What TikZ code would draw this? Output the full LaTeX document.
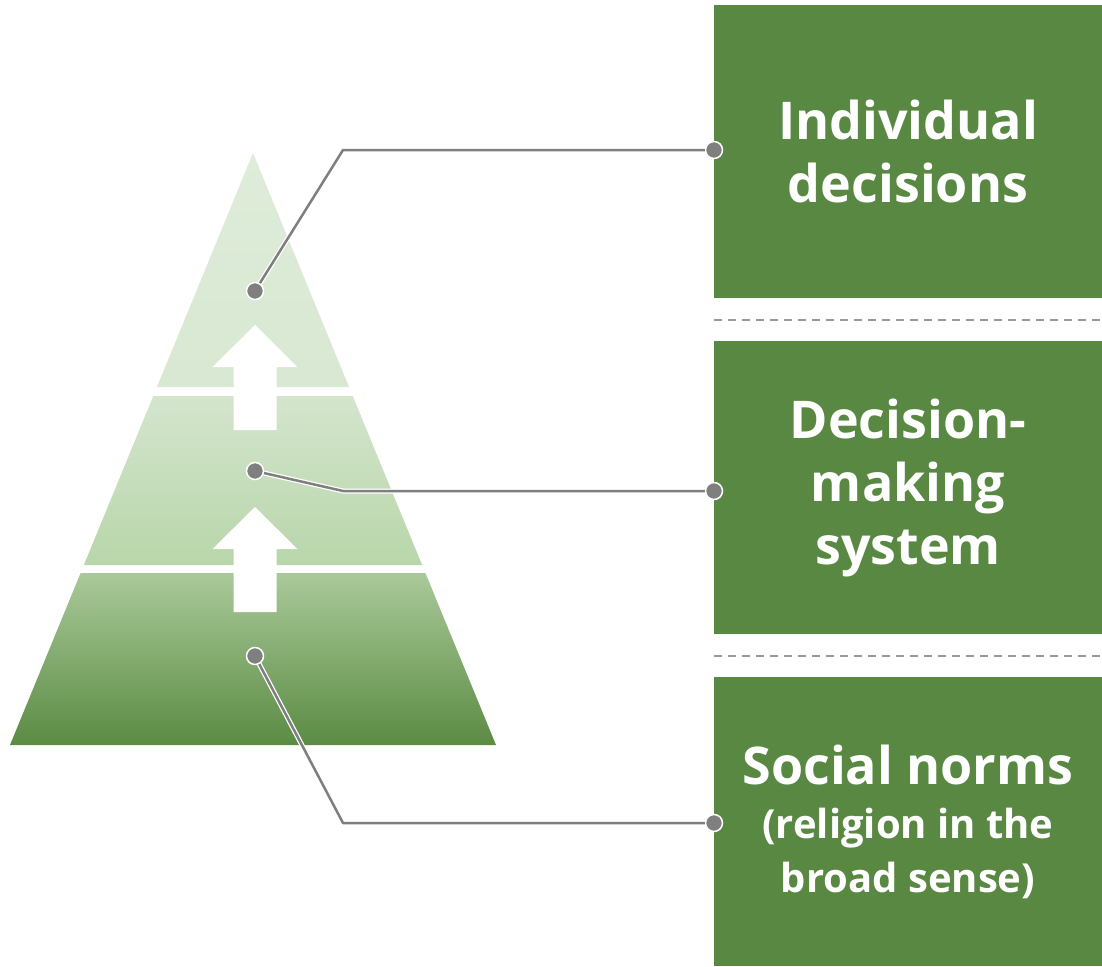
\documentclass[tikz,border=0pt]{standalone}
\usepackage{fontspec}
\setmainfont{Open Sans}
\usetikzlibrary{calc}
\definecolor{boxgreen}{HTML}{598842}
\definecolor{lineGray}{HTML}{7F7F7F}
\definecolor{dashGray}{HTML}{9A9A9A}
\definecolor{topA}{HTML}{DEECD9}
\definecolor{topB}{HTML}{D8E8D2}
\definecolor{midA}{HTML}{D4E5CD}
\definecolor{midB}{HTML}{B8D6AA}
\definecolor{botA}{HTML}{AAC99A}
\definecolor{botB}{HTML}{5B8B43}
\tikzset{
  layerbox/.style={fill=boxgreen, minimum width=388pt, minimum height=293pt,
    inner sep=0pt, text=white, align=flush center, text width=380pt,
    font=\fontsize{52}{63}\selectfont\bfseries},
  leader/.style={draw=lineGray, line width=2.5pt, line join=round,
    preaction={draw=white, line width=5pt}},
  pin dot/.style={circle, fill=lineGray, draw=white, line width=1.5pt,
    minimum size=17pt, inner sep=0pt},
  sep line/.style={draw=dashGray, line width=2pt, dash pattern=on 8pt off 6pt}
}
\begin{document}
\begin{tikzpicture}[x=1pt, y=-1pt]
    \useasboundingbox (0,0) rectangle (1102,966);

    % pyramid
    \coordinate (apex) at (253,153);
    \coordinate (bl) at (10,745);
    \coordinate (br) at (496,745);

    \shade[top color=topA, bottom color=topB]
        (apex) -- ($(apex)!0.3953!(br)$) -- ($(apex)!0.3953!(bl)$) -- cycle;
    \shade[top color=midA, bottom color=midB]
        ($(apex)!0.4105!(bl)$) -- ($(apex)!0.4105!(br)$)
        -- ($(apex)!0.696!(br)$) -- ($(apex)!0.696!(bl)$) -- cycle;
    \shade[top color=botA, bottom color=botB]
        ($(apex)!0.7095!(bl)$) -- ($(apex)!0.7095!(br)$) -- (br) -- (bl) -- cycle;

    % arrows
    \foreach \t in {325,507}
        \fill[white] (255,\t) -- (297.5,\t+42) -- (276.5,\t+42) -- (276.5,\t+105)
            -- (233.5,\t+105) -- (233.5,\t+42) -- (212.5,\t+42) -- cycle;

    % boxes
    \node[layerbox] (indiv) at (908,151.5) {Individual\\decisions};
    \node[layerbox] (dmsys) at (908,487.5) {Decision-\\making\\system};
    \node[layerbox, minimum height=289pt] (norms) at (908,821.5)
        {Social norms\par{\fontsize{40}{54}\selectfont (religion in the\\broad sense)\par}};

    \draw[sep line] (714,320) -- (1102,320);
    \draw[sep line] (714,656) -- (1102,656);

    % leaders
    \coordinate (k1) at (343,150);
    \coordinate (k2) at (343,491);
    \coordinate (k3) at (343,823);
    \node[pin dot] (p1) at (255,291) {};
    \node[pin dot] (p2) at (255,471) {};
    \node[pin dot] (p3) at (255,656) {};
    \node[pin dot] (q1) at (714,150) {};
    \node[pin dot] (q2) at (714,491) {};
    \node[pin dot] (q3) at (714,823) {};
    \draw[leader] (p1) -- (k1) -- (q1);
    \draw[leader] (p2) -- (k2) -- (q2);
    \draw[leader] (p3) -- (k3) -- (q3);
\end{tikzpicture}
\end{document}
